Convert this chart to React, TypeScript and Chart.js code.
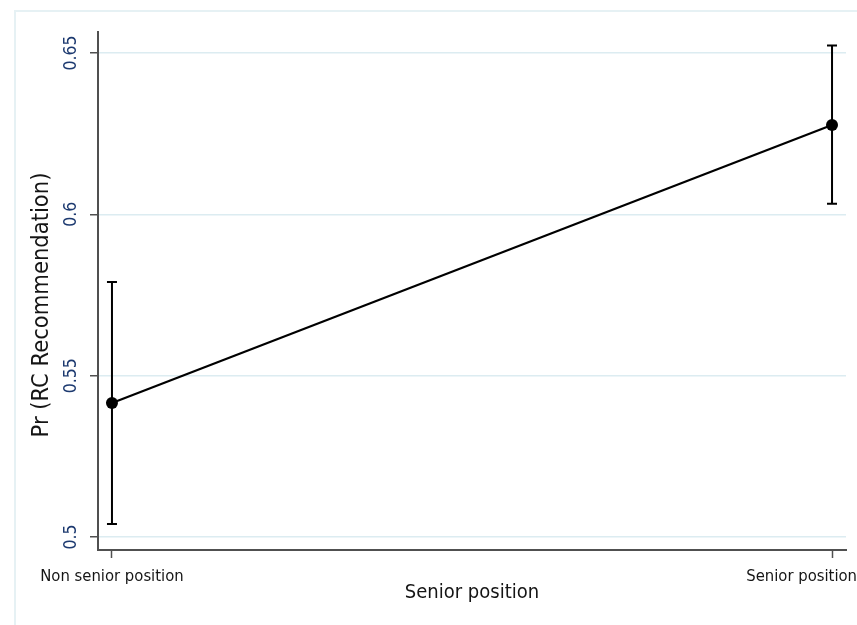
import { useEffect, useRef } from 'react';
import { Chart, registerables } from 'chart.js';

Chart.register(...registerables);

// Predicted probability of an RC recommendation by position, with 95% CIs
const categories = ['Non senior position', 'Senior position'];
const categoryX = [0, 1];
const predicted = [0.5415, 0.6277];
const ciLower = [0.504, 0.6033];
const ciUpper = [0.579, 0.6523];
const yTicks = [0.5, 0.55, 0.6, 0.65];
const yTickLabels = ['0.5', '0.55', '0.6', '0.65'];
const xTitle = 'Senior position';
const yTitle = 'Pr (RC Recommendation)';

const FONT = '"DejaVu Sans Condensed", "DejaVu Sans", sans-serif';
const AXIS_COLOR = '#505050';
const GRID_COLOR = '#dcecf1';
const TICK_TEXT = '#1d3a70';
const TEXT = '#151515';

// Whiskers for the confidence intervals, drawn under the line and markers
const errorBars = {
  id: 'errorBars',
  beforeDatasetsDraw(chart: any) {
    const { ctx, scales } = chart;
    const x = scales.x;
    const y = scales.y;
    ctx.save();
    ctx.strokeStyle = '#000';
    ctx.lineWidth = 2;
    categoryX.forEach((v, i) => {
      const px = x.getPixelForValue(v);
      const top = y.getPixelForValue(ciUpper[i]);
      const bot = y.getPixelForValue(ciLower[i]);
      ctx.beginPath();
      ctx.moveTo(px, top);
      ctx.lineTo(px, bot);
      ctx.moveTo(px - 5, top);
      ctx.lineTo(px + 5, top);
      ctx.moveTo(px - 5, bot);
      ctx.lineTo(px + 5, bot);
      ctx.stroke();
    });
    ctx.restore();
  },
};

// Category names under the x ticks (kept inside the canvas) and the y-axis title
const axisText = {
  id: 'axisText',
  afterDraw(chart: any) {
    const { ctx, scales } = chart;
    const x = scales.x;
    ctx.save();
    ctx.font = `16.5px ${FONT}`;
    ctx.fillStyle = TEXT;
    ctx.textAlign = 'center';
    ctx.textBaseline = 'middle';
    categoryX.forEach((v, i) => {
      const w = ctx.measureText(categories[i]).width;
      let cx = x.getPixelForValue(v);
      cx = Math.min(Math.max(cx, w / 2 + 2), chart.width - w / 2);
      ctx.fillText(categories[i], cx, x.top + 27);
    });
    ctx.translate(42, 305);
    ctx.rotate(-Math.PI / 2);
    ctx.font = `23.5px ${FONT}`;
    ctx.fillText(yTitle, 0, 0);
    ctx.restore();
  },
};

function MarginsChart() {
  const ref = useRef<HTMLCanvasElement | null>(null);

  useEffect(() => {
    if (!ref.current) return;
    const chart = new Chart(ref.current, {
      type: 'line',
      data: {
        datasets: [
          {
            data: categoryX.map((v, i) => ({ x: v, y: predicted[i] })),
            borderColor: '#000',
            borderWidth: 2.2,
            pointRadius: 6,
            pointBackgroundColor: '#000',
            pointBorderColor: '#000',
            pointBorderWidth: 0,
            tension: 0,
            fill: false,
          },
        ],
      },
      options: {
        responsive: false,
        animation: false,
        devicePixelRatio: 1,
        events: [],
        layout: { padding: { left: 0, top: 32, right: 11, bottom: 0 } },
        plugins: { legend: { display: false }, tooltip: { enabled: false } },
        scales: {
          x: {
            type: 'linear',
            min: -0.0194,
            max: 1.0194,
            afterBuildTicks: (s: any) => {
              s.ticks = categoryX.map((v) => ({ value: v }));
            },
            afterFit: (s: any) => {
              s.height = 75;
              s.paddingLeft = 0;
              s.paddingRight = 0;
            },
            ticks: { display: false },
            grid: {
              drawOnChartArea: false,
              drawTicks: true,
              tickLength: 8,
              tickColor: AXIS_COLOR,
              tickWidth: 1.5,
            },
            border: { display: true, color: AXIS_COLOR, width: 2 },
            title: {
              display: true,
              text: xTitle,
              color: TEXT,
              font: { family: FONT, size: 20 },
              padding: { top: 0, bottom: 20 },
            },
          },
          y: {
            type: 'linear',
            min: 0.49597,
            max: 0.6565,
            afterBuildTicks: (s: any) => {
              s.ticks = yTicks.map((v) => ({ value: v }));
            },
            afterFit: (s: any) => {
              s.width = 98;
              s.paddingTop = 0;
              s.paddingBottom = 0;
            },
            ticks: {
              minRotation: 90,
              maxRotation: 90,
              crossAlign: 'center',
              padding: 1,
              color: TICK_TEXT,
              font: { family: FONT, size: 17.5 },
              callback: (_v: any, i: number) => yTickLabels[i],
            },
            grid: {
              color: GRID_COLOR,
              lineWidth: 1.5,
              drawTicks: true,
              tickLength: 8,
              tickColor: AXIS_COLOR,
              tickWidth: 1.5,
            },
            border: { display: true, color: AXIS_COLOR, width: 2 },
          },
        },
      },
      plugins: [errorBars, axisText],
    } as any);
    return () => chart.destroy();
  }, []);

  return <canvas ref={ref} width={857} height={625} style={{ display: 'block', position: 'absolute', left: 0, top: 0 }} />;
}

export default function App() {
  return (
    <div style={{ position: 'fixed', left: 0, top: 0, width: 857, height: 625, overflow: 'hidden', background: '#fff' }}>
      <div
        style={{
          position: 'absolute',
          left: 14,
          top: 10,
          right: -10,
          bottom: -10,
          borderLeft: '2px solid #e6f1f4',
          borderTop: '2px solid #e6f1f4',
        }}
      />
      <MarginsChart />
    </div>
  );
}
